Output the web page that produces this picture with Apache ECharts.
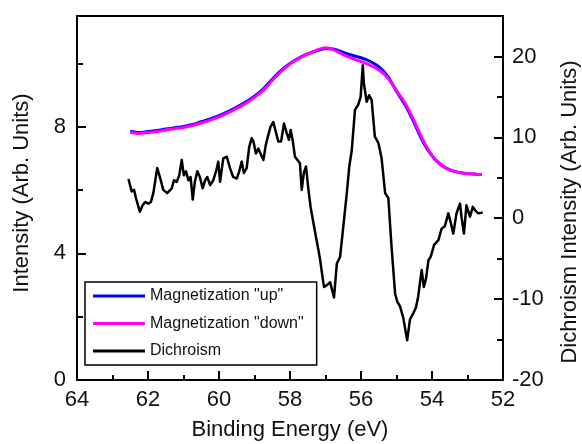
<!DOCTYPE html>
<html>
<head>
<meta charset="utf-8">
<script src="https://cdn.jsdelivr.net/npm/echarts@6/dist/echarts.min.js"></script>
<style>html,body{margin:0;padding:0;background:#fff}#c{width:582px;height:444px}</style>
</head>
<body>
<div id="c"></div>
<script>
const xTicks = [64, 62, 60, 58, 56, 54, 52];
const leftTicks = [0, 4, 8];
const rightTicks = [-20, -10, 0, 10, 20];

const magX = [62.5, 62.25, 62.0, 61.75, 61.5, 61.25, 61.0, 60.75, 60.5, 60.25, 60.0, 59.75, 59.5, 59.25, 59.0, 58.75, 58.5, 58.25, 58.0, 57.75, 57.5, 57.25, 57.0, 56.75, 56.5, 56.25, 56.0, 55.75, 55.5, 55.25, 55.0, 54.75, 54.5, 54.25, 54.0, 53.75, 53.5, 53.25, 53.0, 52.75, 52.6];
const magUp = [7.86, 7.82, 7.85, 7.88, 7.93, 7.97, 8.01, 8.07, 8.16, 8.25, 8.35, 8.48, 8.62, 8.78, 8.97, 9.2, 9.5, 9.78, 10.0, 10.17, 10.3, 10.4, 10.47, 10.45, 10.35, 10.26, 10.18, 10.07, 9.9, 9.6, 9.12, 8.68, 8.12, 7.52, 7.08, 6.8, 6.64, 6.56, 6.52, 6.5, 6.49];
const magDown = [7.83, 7.79, 7.82, 7.85, 7.9, 7.94, 7.98, 8.04, 8.12, 8.21, 8.31, 8.44, 8.58, 8.74, 8.93, 9.16, 9.46, 9.75, 9.98, 10.16, 10.3, 10.42, 10.5, 10.42, 10.28, 10.16, 10.06, 9.95, 9.8, 9.55, 9.14, 8.73, 8.18, 7.57, 7.1, 6.8, 6.64, 6.56, 6.52, 6.5, 6.49];

const dichX = [62.55, 62.46, 62.39, 62.34, 62.23, 62.15, 62.08, 61.99, 61.92, 61.85, 61.74, 61.64, 61.57, 61.46, 61.33, 61.27, 61.19, 61.12, 61.05, 60.99, 60.93, 60.86, 60.8, 60.74, 60.68, 60.61, 60.54, 60.46, 60.39, 60.33, 60.25, 60.16, 60.07, 60.02, 59.97, 59.88, 59.78, 59.69, 59.6, 59.5, 59.43, 59.36, 59.3, 59.22, 59.15, 59.08, 59.03, 58.96, 58.89, 58.83, 58.75, 58.68, 58.61, 58.55, 58.47, 58.39, 58.33, 58.25, 58.17, 58.09, 58.03, 57.98, 57.92, 57.86, 57.79, 57.72, 57.67, 57.61, 57.55, 57.48, 57.42, 57.34, 57.27, 57.2, 57.15, 57.08, 57.04, 56.97, 56.87, 56.76, 56.68, 56.59, 56.5, 56.4, 56.33, 56.26, 56.17, 56.08, 56.01, 55.95, 55.92, 55.84, 55.77, 55.7, 55.61, 55.51, 55.42, 55.32, 55.23, 55.14, 55.04, 54.98, 54.9, 54.81, 54.7, 54.62, 54.52, 54.45, 54.39, 54.29, 54.23, 54.17, 54.1, 54.04, 53.94, 53.82, 53.73, 53.64, 53.54, 53.48, 53.4, 53.31, 53.21, 53.17, 53.1, 53.03, 52.98, 52.93, 52.85, 52.79, 52.7, 52.57];
const dichY = [4.85, 3.3, 3.5, 2.5, 0.8, 1.6, 2.0, 1.8, 2.0, 3.1, 6.2, 4.7, 3.5, 3.1, 3.7, 4.7, 4.5, 5.3, 7.2, 5.3, 5.8, 4.7, 5.1, 2.3, 4.5, 5.8, 5.1, 3.7, 4.7, 5.1, 4.1, 4.7, 6.0, 7.0, 4.5, 7.4, 7.6, 6.2, 5.1, 4.9, 5.8, 7.0, 5.6, 6.2, 8.8, 9.9, 9.5, 8.0, 8.6, 8.0, 7.2, 9.1, 10.3, 11.3, 11.9, 10.5, 9.5, 9.5, 11.7, 10.5, 9.7, 10.9, 9.5, 7.6, 7.2, 6.8, 3.5, 5.6, 6.4, 3.5, 1.4, -0.6, -2.3, -3.9, -5.2, -7.4, -8.5, -8.3, -7.9, -9.8, -5.6, -4.8, -1.1, 3.1, 6.4, 8.4, 13.4, 14.0, 15.0, 18.9, 16.7, 14.4, 15.2, 14.6, 10.1, 9.3, 7.4, 3.1, 2.5, -3.5, -9.3, -10.3, -10.9, -12.3, -15.1, -12.5, -11.7, -11.0, -9.7, -6.4, -8.5, -7.5, -5.2, -4.8, -3.3, -2.7, -1.3, -1.0, 0.6, -0.4, -1.9, 0.6, 1.8, 0.2, -1.9, 1.6, 1.5, 0.2, 1.4, 1.0, 0.6, 0.7];

const names = ['Magnetization "up"', 'Magnetization "down"', 'Dichroism'];
const colors = ['#0000ff', '#ff00ff', '#000000'];
const X_MIN = 52, X_MAX = 64, LEFT_MIN = 0, LEFT_MAX = 11.5, RIGHT_MIN = -20, RIGHT_MAX = 25;

const pair = (xs, ys) => xs.map((x, i) => [x, ys[i]]);
const FONT = "'Liberation Sans', Arial, sans-serif";
const TXT = '#111';

const chart = echarts.init(document.getElementById('c'), null, {renderer: 'canvas'});
chart.setOption({
  animation: false,
  backgroundColor: '#fff',
  grid: {left: 77, right: 79, top: 16, bottom: 64, containLabel: false, outerBoundsMode: 'none'},
  legend: {
    orient: 'vertical', left: 85, top: 282,
    data: names,
    icon: 'rect', itemWidth: 52, itemHeight: 3, itemGap: 11.5,
    padding: [6, 13, 6, 8],
    borderColor: '#000', borderWidth: 1.5,
    textStyle: {fontFamily: FONT, fontSize: 16, color: TXT},
    itemStyle: {borderWidth: 0}
  },
  xAxis: [
    {
      type: 'value', position: 'bottom', inverse: true, min: X_MIN, max: X_MAX, interval: 2,
      name: 'Binding Energy (eV)', nameLocation: 'middle', nameGap: 39,
      nameTextStyle: {fontFamily: FONT, fontSize: 22, color: TXT},
      axisLine: {show: true, onZero: false, lineStyle: {color: '#000', width: 2}},
      axisTick: {inside: true, length: 9, lineStyle: {color: '#000', width: 2}},
      minorTick: {show: true, splitNumber: 2, length: 5, lineStyle: {color: '#000', width: 2}},
      axisLabel: {fontFamily: FONT, fontSize: 22, color: TXT, margin: 9, customValues: xTicks},
      splitLine: {show: false}
    },
    {
      type: 'value', position: 'top', inverse: true, min: X_MIN, max: X_MAX, interval: 2,
      axisLine: {show: true, onZero: false, lineStyle: {color: '#000', width: 2}},
      axisTick: {show: false}, axisLabel: {show: false}, splitLine: {show: false}
    }
  ],
  yAxis: [
    {
      type: 'value', position: 'left', min: LEFT_MIN, max: LEFT_MAX,
      name: 'Intensity (Arb. Units)', nameLocation: 'middle', nameGap: 44, nameRotate: 90,
      nameTextStyle: {fontFamily: FONT, fontSize: 22, color: TXT, padding: [0, 0, 0, 10]},
      axisLine: {show: true, onZero: false, lineStyle: {color: '#000', width: 2}},
      axisTick: {show: true, inside: true, length: 9, lineStyle: {color: '#000', width: 2}, customValues: leftTicks},
      axisLabel: {fontFamily: FONT, fontSize: 22, color: TXT, margin: 11, customValues: leftTicks},
      splitLine: {show: false}
    },
    {
      type: 'value', position: 'right', min: RIGHT_MIN, max: RIGHT_MAX,
      name: 'Dichroism Intensity (Arb. Units)', nameLocation: 'middle', nameGap: 56, nameRotate: 90,
      nameTextStyle: {fontFamily: FONT, fontSize: 22, color: TXT, padding: [0, 28, 0, 0]},
      axisLine: {show: true, onZero: false, lineStyle: {color: '#000', width: 2}},
      axisTick: {show: true, inside: true, length: 9, lineStyle: {color: '#000', width: 2}, customValues: rightTicks},
      axisLabel: {fontFamily: FONT, fontSize: 22, color: TXT, margin: 9, customValues: rightTicks},
      splitLine: {show: false}
    },
    {
      type: 'value', position: 'left', min: LEFT_MIN, max: LEFT_MAX,
      axisLine: {show: false, onZero: false},
      axisTick: {show: true, inside: true, length: 6, lineStyle: {color: '#000', width: 2}, customValues: [2, 6, 10]},
      axisLabel: {show: false},
      splitLine: {show: false}
    },
    {
      type: 'value', position: 'right', min: RIGHT_MIN, max: RIGHT_MAX,
      axisLine: {show: false, onZero: false},
      axisTick: {show: true, inside: true, length: 6, lineStyle: {color: '#000', width: 2}, customValues: [-15, -5, 5, 15]},
      axisLabel: {show: false},
      splitLine: {show: false}
    }
  ],
  series: [
    {name: names[0], type: 'line', xAxisIndex: 0, yAxisIndex: 0, data: pair(magX, magUp), smooth: 0.3, showSymbol: false,
      lineStyle: {color: colors[0], width: 3}, itemStyle: {color: colors[0]},
      markLine: {silent: true, symbol: ['none', 'none'], label: {show: false},
        lineStyle: {color: '#000', width: 2, type: 'solid'},
        data: [{yAxis: LEFT_MAX}]}},
    {name: names[1], type: 'line', xAxisIndex: 0, yAxisIndex: 0, data: pair(magX, magDown), smooth: 0.3, showSymbol: false,
      lineStyle: {color: colors[1], width: 3}, itemStyle: {color: colors[1]}},
    {name: names[2], type: 'line', xAxisIndex: 1, yAxisIndex: 1, data: pair(dichX, dichY), showSymbol: false,
      lineStyle: {color: colors[2], width: 2.5, join: 'round'}, itemStyle: {color: colors[2]}}
  ]
});
</script>
</body>
</html>
